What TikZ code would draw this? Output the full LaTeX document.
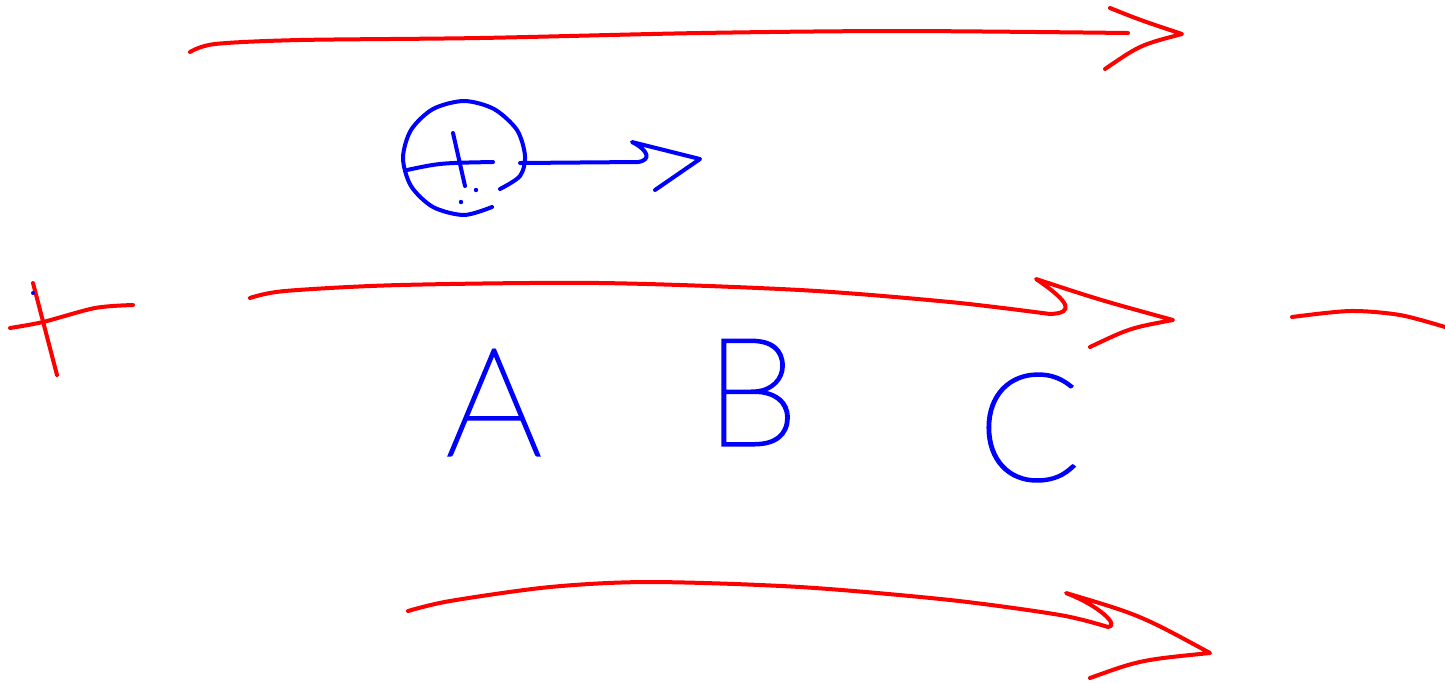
\documentclass[tikz,border=0pt]{standalone}
\usepackage{fontspec}
\usepackage{tikz}
\usetikzlibrary{positioning}
\IfFontExistsTF{Lato Thin}{\newfontfamily\handfont{Lato Thin}[FakeBold=2]}{%
  \IfFontExistsTF{DejaVu Sans ExtraLight}{\newfontfamily\handfont{DejaVu Sans ExtraLight}[FakeBold=2]}{%
    \IfFontExistsTF{Lato Light}{\newfontfamily\handfont{Lato Light}}{%
      \newfontfamily\handfont{Liberation Sans}}}}

\begin{document}
\begin{tikzpicture}[x=0.5pt, y=-0.5pt,
    redink/.style={draw=red, line width=2pt, line cap=round, line join=round},
    blueink/.style={draw=blue, line width=2pt, line cap=round, line join=round},
    letter/.style={text=blue, anchor=base, inner sep=0pt, font=\handfont\fontsize{75}{75}\selectfont}]
    \useasboundingbox (0,0) rectangle (1445,682);

    % Top arrow
    \draw[redink] plot[smooth] coordinates {(190,52) (215,44) (300,40) (480,38) (700,33) (900,31) (1128,33)};
    \draw[redink] (1110,8) .. controls (1140,20) .. (1182,34) .. controls (1140,45) .. (1105,69);

    % Circle with plus sign
    \draw[blueink] plot[smooth] coordinates {(492,207) (464,215) (433,207) (411,186) (403,158) (411,130) (433,109) (464,101) (494,109) (517,130) (525,156) (520,176) (500,189)};
    \draw[blueink] (407,170) .. controls (440,163) .. (493,162);
    \draw[blueink] (453,133) -- (465,186);
    \fill[blue] (476,190) circle (2.2) (461,202) circle (2.2);

    % Arrow leaving the circle
    \draw[blueink] (520,163) -- (638,162) .. controls (652,160) and (648,150) .. (632,142)
        -- (700,159) -- (655,190);

    % Left cross
    \draw[redink] (33,283) -- (57,375);
    \draw[redink] plot[smooth] coordinates {(10,328) (43,322) (95,308) (133,305)};
    \fill[blue] (33,293) circle (2);

    % Middle arrow
    \draw[redink] plot[smooth] coordinates {(250,298) (285,291) (400,285) (600,283) (800,290) (950,302) (1050,314)}
        .. controls (1075,313) and (1070,302) .. (1036,279)
        .. controls (1100,300) .. (1173,320)
        .. controls (1130,328) .. (1090,347);

    % Right fragment
    \draw[redink] plot[smooth] coordinates {(1292,317) (1350,311) (1400,315) (1445,327)};

    % Letters
    \node[letter] (a) at (494,455) {A};
    \node[letter] (b) at (752,445) {B};
    \node[letter] (c) at (1029,480) {C};

    % Bottom arrow
    \draw[redink] plot[smooth] coordinates {(408,611) (450,601) (550,587) (650,582) (800,587) (950,600) (1060,615) (1108,627)}
        .. controls (1120,626) and (1100,606) .. (1066,593)
        .. controls (1140,615) .. (1210,653)
        .. controls (1140,660) .. (1090,678);
\end{tikzpicture}
\end{document}
